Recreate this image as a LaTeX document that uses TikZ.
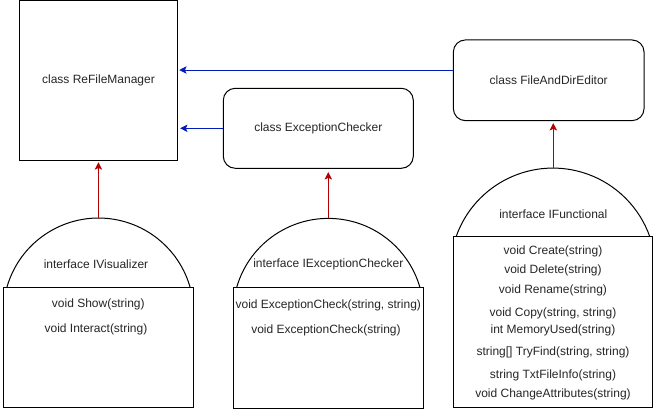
\documentclass[tikz,border=0pt]{standalone}
\usepackage{fontspec}
\setmainfont{Liberation Sans}
\usetikzlibrary{arrows.meta}
\definecolor{arrblue}{HTML}{001DBC}
\definecolor{arrred}{HTML}{B20000}
\begin{document}
\begin{tikzpicture}[x=0.75pt,y=-0.75pt,
  every node/.style={font=\fontsize{9pt}{11pt}\selectfont, inner sep=0pt, text=black!85},
  lbl/.style={yshift=-1.4pt},
  classbox/.style={draw, line width=0.75pt, fill=white},
  roundbox/.style={classbox, rounded corners=9pt},
  methodbox/.style={draw, line width=0.75pt, fill=white},
  dome/.style={draw, line width=0.75pt, fill=white},
  blink/.style={draw=arrblue, line width=0.75pt, -{Stealth[length=5.5pt,width=5.5pt,inset=1.2pt]}},
  rlink/.style={draw=arrred, line width=0.75pt, -{Stealth[length=5.5pt,width=5.5pt,inset=1.2pt]}}
]
\useasboundingbox (0,0) rectangle (654,409);

% classes
\node[classbox, minimum width=118.5pt, minimum height=119.6pt] (rfm) at (98.5,80.3) {class ReFileManager};
\node[roundbox, minimum width=142.5pt, minimum height=60pt] (ecc) at (318.3,128.3) {class ExceptionChecker};
\node[roundbox, minimum width=143pt, minimum height=60.5pt] (fde) at (548.7,80.3) {class FileAndDirEditor};

% interface IVisualizer
\draw[dome] (7,287) arc[start angle=164, end angle=16, radius=71.4pt];
\coordinate (vtop) at (98.4,218);
\node[methodbox, minimum width=142.5pt, minimum height=90pt] (vis) at (98.3,348) {};
\node[lbl] (visname) at (96,262) {interface IVisualizer};
\node[lbl] (vis1) at (98.3,302.7) {void Show(string)};
\node[lbl] (vis2) at (96,328) {void Interact(string)};

% interface IExceptionChecker
\draw[dome] (236.7,287.3) arc[start angle=163.9, end angle=16.1, radius=71.5pt];
\coordinate (etop) at (328.3,218.3);
\node[methodbox, minimum width=142.5pt, minimum height=90.75pt] (iec) at (328.3,347.8) {};
\node[lbl] (iecname) at (328.3,263) {interface IExceptionChecker};
\node[lbl] (iec1) at (328.3,303.3) {void ExceptionCheck(string, string)};
\node[lbl] (iec2) at (326,329) {void ExceptionCheck(string)};

% interface IFunctional
\draw[dome] (456,237) arc[start angle=160.8, end angle=19.2, radius=77pt];
\coordinate (ftop) at (553.3,168);
\node[methodbox, minimum width=149pt, minimum height=128.25pt] (ifn) at (552.7,322.5) {};
\node[lbl] (ifnname) at (553.3,212.7) {interface IFunctional};
\node[lbl] (ifn1) at (553,249.3) {void Create(string)};
\node[lbl] (ifn2) at (553,268.3) {void Delete(string)};
\node[lbl] (ifn3) at (553,288.3) {void Rename(string)};
\node[lbl] (ifn4) at (553,311.7) {void Copy(string, string)};
\node[lbl] (ifn5) at (553,328.3) {int MemoryUsed(string)};
\node[lbl] (ifn6) at (553,350.7) {string[] TryFind(string, string)};
\node[lbl] (ifn7) at (553,373.3) {string TxtFileInfo(string)};
\node[lbl] (ifn8) at (553,392.7) {void ChangeAttributes(string)};

% connectors
\coordinate (a1) at ([yshift=7.7pt]fde.west);
\draw[blink, shorten >=0.9pt] (a1) -- (a1 -| rfm.east);
\draw[blink, shorten >=1.6pt] (ecc.west) -- (ecc.west -| rfm.east);
\draw[rlink, shorten >=1.3pt] (vtop) -- (vtop |- rfm.south);
\draw[rlink, shorten >=2.5pt] (etop) -- (etop |- ecc.south);
\draw[rlink, shorten >=1.5pt] (ftop) -- (ftop |- fde.south);
\end{tikzpicture}
\end{document}
